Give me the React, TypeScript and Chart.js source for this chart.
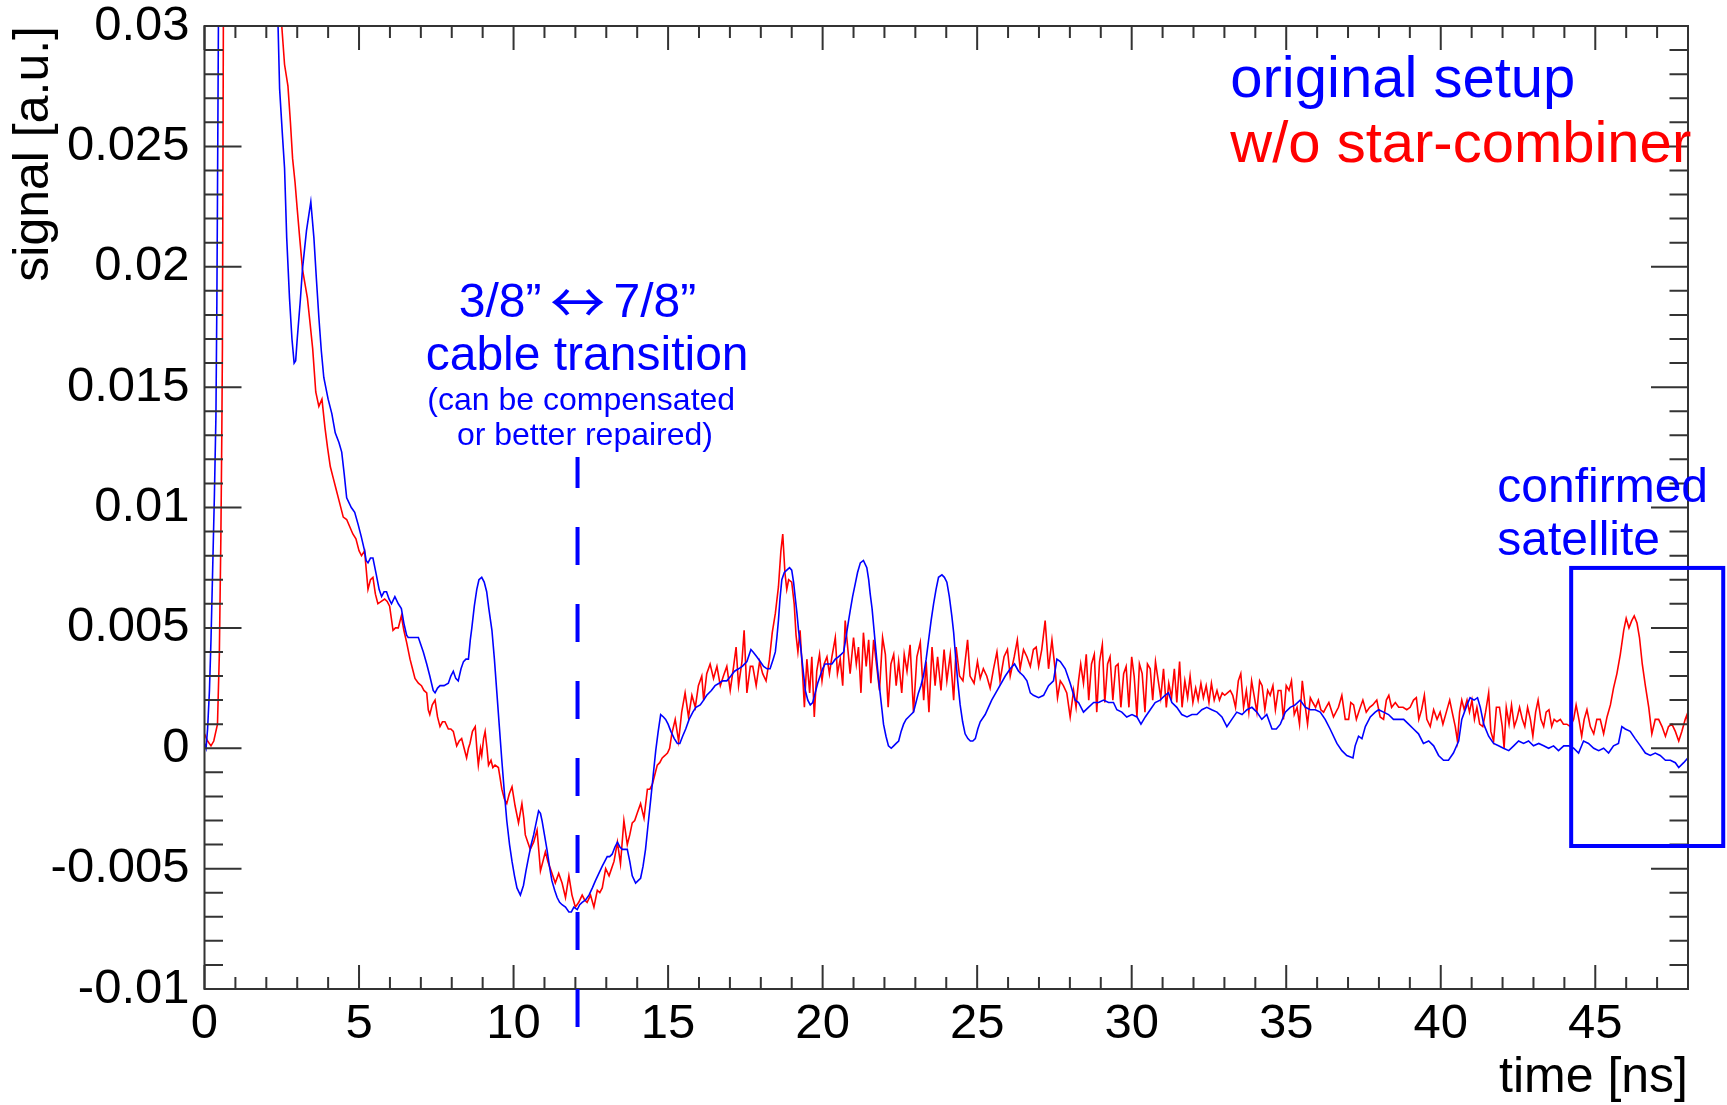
import React, { useEffect, useRef } from "react";
import { Chart, registerables } from "chart.js";

Chart.register(...registerables);

// ---------- data ----------
const xTickValues = [0, 5, 10, 15, 20, 25, 30, 35, 40, 45];
const xTickLabels = ["0", "5", "10", "15", "20", "25", "30", "35", "40", "45"];
const yTickValues = [-0.01, -0.005, 0, 0.005, 0.01, 0.015, 0.02, 0.025, 0.03];
const yTickLabels = ["-0.01", "-0.005", "0", "0.005", "0.01", "0.015", "0.02", "0.025", "0.03"];
const seriesNames = ["original setup", "w/o star-combiner"];

// [time ns, signal a.u.]
const originalSetup: [number, number][] = [
  [0.0, 0.0002], [0.05, 0.0], [0.1, 0.0008], [0.16, 0.0024], [0.21, 0.0045], [0.26, 0.0072],
  [0.32, 0.0105], [0.37, 0.0138], [0.4, 0.0185], [0.42, 0.0229], [0.45, 0.03], [0.5, 0.045],
  [1.2, 0.12], [2.3, 0.045], [2.38, 0.03], [2.43, 0.0274], [2.52, 0.0255], [2.59, 0.0241],
  [2.66, 0.0212], [2.75, 0.0187], [2.83, 0.017], [2.9, 0.016], [2.95, 0.0161], [3.0, 0.017],
  [3.1, 0.0186], [3.17, 0.0199], [3.3, 0.0215], [3.44, 0.0227], [3.54, 0.0212], [3.62, 0.0195],
  [3.7, 0.0179], [3.78, 0.0165], [3.86, 0.0154], [4.0, 0.0145], [4.12, 0.0139], [4.23, 0.0131],
  [4.35, 0.0127], [4.44, 0.0123], [4.52, 0.0114], [4.6, 0.0104], [4.75, 0.01], [4.86, 0.0098],
  [4.97, 0.0093], [5.07, 0.0088], [5.18, 0.0082], [5.23, 0.0078], [5.29, 0.0077], [5.37, 0.0079],
  [5.45, 0.0079], [5.56, 0.0072], [5.65, 0.0066], [5.73, 0.0063], [5.81, 0.0065], [5.89, 0.0065],
  [5.97, 0.0062], [6.05, 0.006], [6.16, 0.0063], [6.27, 0.006], [6.37, 0.0058], [6.45, 0.0052],
  [6.54, 0.0047], [6.59, 0.0046], [6.75, 0.0046], [6.92, 0.0046], [7.0, 0.0043], [7.08, 0.004],
  [7.19, 0.0035], [7.29, 0.003], [7.4, 0.0024], [7.46, 0.0023], [7.54, 0.0025], [7.62, 0.0026],
  [7.75, 0.0026], [7.89, 0.0027], [7.97, 0.003], [8.05, 0.0032], [8.13, 0.0029], [8.21, 0.0028],
  [8.3, 0.0033], [8.38, 0.0036], [8.46, 0.0037], [8.54, 0.0037], [8.6, 0.0045], [8.65, 0.005],
  [8.73, 0.0059], [8.81, 0.0066], [8.88, 0.007], [8.97, 0.0071], [9.05, 0.0069], [9.13, 0.0065],
  [9.2, 0.0058], [9.3, 0.0049], [9.38, 0.0037], [9.46, 0.0023], [9.54, 0.0009], [9.62, -0.0005],
  [9.7, -0.0018], [9.78, -0.003], [9.87, -0.004], [9.95, -0.0047], [10.03, -0.0053], [10.11, -0.0058],
  [10.22, -0.0061], [10.32, -0.0057], [10.4, -0.0051], [10.49, -0.0045], [10.57, -0.004], [10.65, -0.0036],
  [10.73, -0.0031], [10.81, -0.0026], [10.87, -0.0027], [10.92, -0.003], [11.0, -0.0036], [11.08, -0.0042],
  [11.16, -0.0049], [11.24, -0.0055], [11.33, -0.0059], [11.41, -0.0062], [11.49, -0.0064], [11.57, -0.0065],
  [11.68, -0.0066], [11.79, -0.0068], [11.87, -0.0068], [11.95, -0.0066], [12.06, -0.0067], [12.14, -0.0065],
  [12.22, -0.0064], [12.33, -0.0063], [12.44, -0.0061], [12.55, -0.0058], [12.65, -0.0055], [12.76, -0.0052],
  [12.87, -0.0049], [12.95, -0.0047], [13.03, -0.0045], [13.11, -0.0045], [13.19, -0.0044], [13.28, -0.0041],
  [13.36, -0.0039], [13.44, -0.0041], [13.52, -0.0042], [13.6, -0.0042], [13.68, -0.0042], [13.76, -0.0047],
  [13.84, -0.0053], [13.95, -0.0056], [14.03, -0.0055], [14.11, -0.0054], [14.19, -0.0049], [14.27, -0.0042],
  [14.35, -0.0032], [14.44, -0.0021], [14.52, -0.0011], [14.6, -0.0001], [14.68, 0.0007], [14.76, 0.0014],
  [14.85, 0.0013], [14.92, 0.0012], [15.0, 0.001], [15.09, 0.0007], [15.2, 0.0004], [15.3, 0.0002],
  [15.38, 0.0002], [15.47, 0.0005], [15.57, 0.0008], [15.68, 0.0012], [15.8, 0.0015], [15.9, 0.0017],
  [16.04, 0.0018], [16.15, 0.002], [16.25, 0.0022], [16.4, 0.0024], [16.52, 0.0026], [16.65, 0.0027],
  [16.76, 0.0028], [16.9, 0.0028], [17.03, 0.003], [17.15, 0.0032], [17.28, 0.0033], [17.4, 0.0034],
  [17.55, 0.0036], [17.68, 0.0041], [17.75, 0.004], [17.87, 0.0038], [17.98, 0.0036], [18.09, 0.0034],
  [18.2, 0.0033], [18.3, 0.0033], [18.4, 0.0037], [18.47, 0.004], [18.52, 0.0046], [18.57, 0.0053],
  [18.62, 0.0062], [18.68, 0.007], [18.76, 0.0073], [18.84, 0.0074], [18.93, 0.0075], [19.0, 0.0074],
  [19.06, 0.0069], [19.11, 0.0063], [19.17, 0.0056], [19.22, 0.0049], [19.28, 0.0043], [19.33, 0.0037],
  [19.39, 0.003], [19.44, 0.0024], [19.52, 0.002], [19.6, 0.0018], [19.68, 0.0019], [19.76, 0.0023],
  [19.84, 0.0027], [19.92, 0.003], [20.0, 0.0033], [20.08, 0.0035], [20.2, 0.0035], [20.3, 0.0035],
  [20.41, 0.0037], [20.51, 0.0038], [20.6, 0.0039], [20.68, 0.004], [20.73, 0.0044], [20.78, 0.0048],
  [20.84, 0.0053], [20.89, 0.0057], [20.97, 0.0063], [21.05, 0.0068], [21.13, 0.0073], [21.22, 0.0077],
  [21.32, 0.0078], [21.43, 0.0075], [21.49, 0.007], [21.54, 0.0064], [21.6, 0.0058], [21.65, 0.0051],
  [21.7, 0.0044], [21.75, 0.0037], [21.8, 0.003], [21.86, 0.0023], [21.92, 0.0016], [21.97, 0.001],
  [22.05, 0.0005], [22.13, 0.0001], [22.22, 0.0], [22.3, 0.0001], [22.38, 0.0002], [22.46, 0.0003],
  [22.54, 0.0007], [22.62, 0.001], [22.7, 0.0012], [22.78, 0.0013], [22.86, 0.0014], [22.94, 0.0015],
  [23.02, 0.0019], [23.1, 0.0023], [23.18, 0.0026], [23.26, 0.003], [23.35, 0.0037], [23.43, 0.0045],
  [23.51, 0.0053], [23.59, 0.006], [23.67, 0.0066], [23.75, 0.0071], [23.86, 0.0072], [23.94, 0.0071],
  [24.02, 0.0069], [24.1, 0.0063], [24.18, 0.0055], [24.24, 0.0048], [24.29, 0.004], [24.37, 0.0028],
  [24.45, 0.0018], [24.53, 0.0011], [24.61, 0.0006], [24.7, 0.0004], [24.78, 0.0003], [24.86, 0.0003],
  [24.94, 0.0004], [25.02, 0.0008], [25.1, 0.0011], [25.26, 0.0014], [25.47, 0.002], [25.69, 0.0025],
  [25.91, 0.003], [26.07, 0.0033], [26.21, 0.0035], [26.34, 0.0032], [26.5, 0.003], [26.61, 0.0028],
  [26.72, 0.0023], [26.82, 0.0022], [26.99, 0.0021], [27.15, 0.0022], [27.31, 0.0026], [27.47, 0.0028],
  [27.58, 0.0037], [27.69, 0.0036], [27.85, 0.0033], [28.01, 0.0027], [28.17, 0.002], [28.28, 0.0019],
  [28.44, 0.0015], [28.6, 0.0017], [28.77, 0.0019], [28.93, 0.0019], [29.09, 0.002], [29.25, 0.0019],
  [29.41, 0.0019], [29.52, 0.0016], [29.68, 0.0015], [29.84, 0.0013], [30.01, 0.0014], [30.17, 0.0013],
  [30.3, 0.001], [30.44, 0.0013], [30.6, 0.0016], [30.76, 0.0019], [30.92, 0.002], [31.08, 0.0022],
  [31.19, 0.0023], [31.3, 0.0019], [31.46, 0.0017], [31.62, 0.0014], [31.79, 0.0013], [31.95, 0.0014],
  [32.11, 0.0014], [32.27, 0.0016], [32.43, 0.0017], [32.59, 0.0016], [32.76, 0.0015], [32.92, 0.0013],
  [33.08, 0.0009], [33.24, 0.0012], [33.4, 0.0015], [33.57, 0.0014], [33.73, 0.0016], [33.89, 0.0017],
  [34.05, 0.0015], [34.21, 0.0012], [34.37, 0.0014], [34.54, 0.0008], [34.68, 0.0008], [34.81, 0.001],
  [34.97, 0.0015], [35.13, 0.0017], [35.29, 0.0018], [35.45, 0.002], [35.62, 0.0017], [35.78, 0.0016],
  [35.94, 0.0016], [36.1, 0.0015], [36.26, 0.0012], [36.42, 0.0008], [36.64, 0.0002], [36.8, -0.0001],
  [36.96, -0.0003], [37.16, -0.0004], [37.23, 0.0001], [37.34, 0.0005], [37.45, 0.0004], [37.56, 0.0009],
  [37.72, 0.0013], [37.88, 0.0015], [37.99, 0.0016], [38.15, 0.0015], [38.31, 0.0014], [38.47, 0.0012],
  [38.64, 0.0012], [38.8, 0.0012], [38.96, 0.001], [39.12, 0.0008], [39.28, 0.0006], [39.44, 0.0002],
  [39.61, 0.0003], [39.77, 0.0001], [39.93, -0.0003], [40.09, -0.0005], [40.25, -0.0005], [40.41, -0.0002],
  [40.58, 0.0003], [40.68, 0.0012], [40.85, 0.0018], [40.95, 0.0021], [41.08, 0.002], [41.19, 0.0021],
  [41.28, 0.0017], [41.39, 0.001], [41.55, 0.0005], [41.71, 0.0002], [41.87, 0.0001], [42.03, 0.0],
  [42.2, -0.0001], [42.36, 0.0001], [42.52, 0.0003], [42.68, 0.0002], [42.84, 0.0003], [43.0, 0.0001],
  [43.17, 0.0002], [43.33, 0.0001], [43.49, 0.0], [43.65, 0.0001], [43.81, -0.0001], [43.98, 0.0001],
  [44.14, 0.0001], [44.3, 0.0], [44.46, -0.0002], [44.62, 0.0003], [44.78, 0.0002], [44.95, 0.0],
  [45.11, -0.0001], [45.27, 0.0], [45.43, -0.0002], [45.59, 0.0001], [45.75, 0.0002], [45.86, 0.0009],
  [45.97, 0.0008], [46.13, 0.0007], [46.29, 0.0004], [46.46, 0.0001], [46.62, -0.0002], [46.78, -0.0003],
  [46.94, -0.0002], [47.1, -0.0003], [47.27, -0.0005], [47.43, -0.0005], [47.59, -0.0006], [47.7, -0.0008],
  [47.86, -0.0006], [48.0, -0.0004],
];

const withoutStarCombiner: [number, number][] = [
  [0.0, 0.0006], [0.1, 0.0003], [0.21, 0.0001], [0.3, 0.0003], [0.42, 0.001], [0.48, 0.0039],
  [0.53, 0.0088], [0.56, 0.013], [0.58, 0.0167], [0.61, 0.03], [0.65, 0.05], [1.4, 0.12],
  [2.42, 0.05], [2.5, 0.03], [2.59, 0.0284], [2.7, 0.0275], [2.78, 0.026], [2.85, 0.0245],
  [2.93, 0.0235], [3.0, 0.0224], [3.08, 0.0212], [3.17, 0.0199], [3.25, 0.0193], [3.33, 0.0187],
  [3.42, 0.0176], [3.5, 0.0166], [3.6, 0.0148], [3.7, 0.0142], [3.8, 0.0145], [3.9, 0.0133],
  [3.98, 0.0125], [4.07, 0.0117], [4.17, 0.0112], [4.25, 0.0108], [4.33, 0.0104], [4.49, 0.0096],
  [4.6, 0.0095], [4.7, 0.0092], [4.8, 0.0089], [4.9, 0.0087], [5.0, 0.0082], [5.08, 0.008],
  [5.18, 0.0082], [5.29, 0.0066], [5.37, 0.007], [5.45, 0.0071], [5.53, 0.0064], [5.61, 0.006],
  [5.72, 0.0061], [5.83, 0.0062], [5.91, 0.0061], [5.99, 0.0059], [6.1, 0.0049], [6.18, 0.005],
  [6.27, 0.005], [6.37, 0.0055], [6.45, 0.0049], [6.54, 0.0044], [6.65, 0.0037], [6.73, 0.0033],
  [6.81, 0.0029], [6.92, 0.0027], [7.02, 0.0026], [7.1, 0.0024], [7.19, 0.0023], [7.24, 0.0016],
  [7.29, 0.0014], [7.37, 0.0018], [7.46, 0.002], [7.54, 0.0013], [7.62, 0.0009], [7.7, 0.0011],
  [7.78, 0.0011], [7.89, 0.0008], [7.97, 0.0008], [8.05, 0.0007], [8.16, 0.0001], [8.24, 0.0003],
  [8.32, 0.0004], [8.4, 0.0], [8.48, -0.0004], [8.54, 0.0], [8.59, 0.0002], [8.67, 0.0007],
  [8.76, 0.0009], [8.81, 0.0], [8.86, -0.0007], [8.93, 0.0], [8.97, -0.0003], [9.03, 0.0004],
  [9.08, 0.0007], [9.14, 0.0], [9.19, -0.0007], [9.27, -0.0005], [9.33, -0.0008], [9.4, -0.0007],
  [9.51, -0.0008], [9.56, -0.0012], [9.62, -0.0017], [9.7, -0.0021], [9.78, -0.0023], [9.86, -0.0019],
  [9.95, -0.0016], [10.05, -0.0024], [10.16, -0.0031], [10.27, -0.0023], [10.33, -0.0029], [10.38, -0.0036],
  [10.46, -0.0039], [10.54, -0.0042], [10.65, -0.0039], [10.76, -0.0034], [10.82, -0.0043], [10.87, -0.0051],
  [10.95, -0.0047], [11.03, -0.0043], [11.11, -0.0047], [11.19, -0.005], [11.27, -0.0053], [11.35, -0.0056],
  [11.46, -0.0052], [11.57, -0.0056], [11.68, -0.0062], [11.79, -0.0053], [11.89, -0.0061], [12.0, -0.0066],
  [12.11, -0.0064], [12.22, -0.0061], [12.3, -0.0063], [12.38, -0.0064], [12.49, -0.0061], [12.6, -0.0066],
  [12.71, -0.0059], [12.79, -0.006], [12.87, -0.0058], [12.98, -0.005], [13.09, -0.0053], [13.17, -0.005],
  [13.25, -0.0047], [13.36, -0.0039], [13.46, -0.0048], [13.57, -0.003], [13.68, -0.004], [13.76, -0.0036],
  [13.84, -0.0031], [13.92, -0.003], [14.0, -0.0027], [14.11, -0.0023], [14.22, -0.0029], [14.33, -0.0017],
  [14.41, -0.0017], [14.49, -0.0015], [14.57, -0.0011], [14.65, -0.0007], [14.73, -0.0006], [14.81, -0.0004],
  [14.9, -0.0003], [14.98, -0.0002], [15.05, 0.0], [15.12, 0.0006], [15.23, 0.0012], [15.34, 0.0003],
  [15.44, 0.0015], [15.55, 0.0023], [15.66, 0.0013], [15.77, 0.0022], [15.88, 0.0017], [15.98, 0.0026],
  [16.09, 0.003], [16.15, 0.002], [16.25, 0.0031], [16.36, 0.0035], [16.47, 0.0029], [16.58, 0.0034],
  [16.69, 0.0026], [16.79, 0.003], [16.9, 0.0034], [17.01, 0.0024], [17.12, 0.0034], [17.2, 0.0042],
  [17.28, 0.0026], [17.39, 0.0036], [17.46, 0.0049], [17.55, 0.0023], [17.66, 0.0034], [17.74, 0.0034],
  [17.85, 0.0026], [17.96, 0.0036], [18.06, 0.0031], [18.17, 0.0028], [18.28, 0.0037], [18.37, 0.0048],
  [18.47, 0.0056], [18.57, 0.0067], [18.65, 0.0082], [18.71, 0.0089], [18.78, 0.0073], [18.84, 0.0066],
  [18.9, 0.007], [19.0, 0.0069], [19.08, 0.006], [19.14, 0.0047], [19.2, 0.004], [19.27, 0.0049],
  [19.36, 0.0029], [19.41, 0.0017], [19.49, 0.0037], [19.58, 0.0023], [19.65, 0.0038], [19.73, 0.0013],
  [19.81, 0.0032], [19.9, 0.0039], [19.98, 0.0028], [20.05, 0.0035], [20.14, 0.0038], [20.22, 0.0031],
  [20.3, 0.0038], [20.41, 0.0046], [20.48, 0.0031], [20.57, 0.0037], [20.65, 0.0026], [20.73, 0.0053],
  [20.81, 0.0042], [20.89, 0.0031], [21.0, 0.0046], [21.09, 0.0035], [21.16, 0.0042], [21.24, 0.0023],
  [21.32, 0.0048], [21.41, 0.0034], [21.49, 0.0045], [21.56, 0.0027], [21.65, 0.0045], [21.75, 0.0034],
  [21.84, 0.0024], [21.94, 0.0046], [22.03, 0.0039], [22.12, 0.0017], [22.21, 0.0035], [22.3, 0.0039],
  [22.38, 0.0026], [22.46, 0.0036], [22.56, 0.0023], [22.64, 0.0039], [22.73, 0.0032], [22.83, 0.0043],
  [22.94, 0.0015], [23.05, 0.0038], [23.16, 0.0044], [23.27, 0.002], [23.35, 0.0036], [23.44, 0.0015],
  [23.54, 0.0042], [23.64, 0.0026], [23.72, 0.0038], [23.83, 0.0024], [23.93, 0.0041], [24.02, 0.0028],
  [24.13, 0.0039], [24.24, 0.002], [24.32, 0.0042], [24.43, 0.003], [24.54, 0.0028], [24.69, 0.0045],
  [24.77, 0.003], [24.9, 0.0027], [25.01, 0.0036], [25.1, 0.0029], [25.2, 0.0033], [25.31, 0.003],
  [25.42, 0.0025], [25.53, 0.0033], [25.64, 0.004], [25.74, 0.0028], [25.87, 0.0038], [25.98, 0.0041],
  [26.07, 0.003], [26.2, 0.0038], [26.3, 0.0045], [26.39, 0.0033], [26.5, 0.0041], [26.61, 0.0038],
  [26.72, 0.0034], [26.82, 0.0041], [26.91, 0.0042], [26.99, 0.0034], [27.09, 0.0041], [27.2, 0.0053],
  [27.31, 0.0033], [27.42, 0.0045], [27.52, 0.0033], [27.6, 0.0021], [27.69, 0.0028], [27.79, 0.0026],
  [27.9, 0.0023], [28.01, 0.0013], [28.12, 0.0024], [28.2, 0.0017], [28.28, 0.0028], [28.35, 0.0035],
  [28.44, 0.0027], [28.53, 0.0039], [28.61, 0.002], [28.7, 0.0035], [28.79, 0.0039], [28.87, 0.0015],
  [28.96, 0.0036], [29.05, 0.0043], [29.13, 0.0019], [29.22, 0.0035], [29.3, 0.0038], [29.39, 0.002],
  [29.48, 0.0034], [29.56, 0.0035], [29.65, 0.0017], [29.74, 0.0031], [29.82, 0.0034], [29.91, 0.0017],
  [30.0, 0.0038], [30.08, 0.003], [30.17, 0.0013], [30.25, 0.0035], [30.34, 0.0031], [30.43, 0.0015],
  [30.51, 0.0035], [30.6, 0.0033], [30.68, 0.002], [30.77, 0.0036], [30.86, 0.0028], [30.94, 0.0021],
  [31.03, 0.0033], [31.12, 0.0017], [31.2, 0.0027], [31.29, 0.0021], [31.38, 0.0033], [31.46, 0.0019],
  [31.55, 0.0036], [31.63, 0.0017], [31.72, 0.0028], [31.81, 0.0021], [31.89, 0.003], [31.98, 0.0019],
  [32.07, 0.0025], [32.15, 0.002], [32.24, 0.0027], [32.32, 0.0021], [32.41, 0.0026], [32.5, 0.0019],
  [32.58, 0.0027], [32.67, 0.002], [32.76, 0.0024], [32.84, 0.002], [32.93, 0.0023], [33.01, 0.0022],
  [33.1, 0.0023], [33.19, 0.0024], [33.27, 0.0022], [33.36, 0.0017], [33.45, 0.0028], [33.53, 0.0031],
  [33.62, 0.0017], [33.71, 0.0024], [33.79, 0.0015], [33.88, 0.0028], [33.96, 0.0022], [34.05, 0.0015],
  [34.14, 0.0028], [34.22, 0.0026], [34.31, 0.0016], [34.4, 0.0024], [34.48, 0.0022], [34.57, 0.0026],
  [34.65, 0.0016], [34.74, 0.0024], [34.83, 0.0024], [34.91, 0.0012], [35.0, 0.0026], [35.09, 0.0024],
  [35.17, 0.0028], [35.26, 0.0014], [35.35, 0.0017], [35.43, 0.001], [35.52, 0.0028], [35.6, 0.0019],
  [35.69, 0.001], [35.78, 0.0021], [35.86, 0.0019], [35.95, 0.0017], [36.04, 0.002], [36.12, 0.0016],
  [36.21, 0.0015], [36.29, 0.0017], [36.38, 0.0019], [36.53, 0.0013], [36.69, 0.0017], [36.8, 0.0022],
  [36.91, 0.0012], [37.02, 0.0012], [37.09, 0.0019], [37.18, 0.0018], [37.27, 0.0012], [37.37, 0.0016],
  [37.48, 0.002], [37.59, 0.0015], [37.7, 0.0017], [37.8, 0.0018], [37.93, 0.002], [38.04, 0.0013],
  [38.15, 0.0012], [38.24, 0.002], [38.32, 0.0022], [38.41, 0.0017], [38.53, 0.0019], [38.64, 0.0017],
  [38.78, 0.0017], [38.9, 0.0016], [39.01, 0.0017], [39.12, 0.002], [39.21, 0.0021], [39.29, 0.0012],
  [39.38, 0.0016], [39.47, 0.0022], [39.55, 0.0012], [39.66, 0.0009], [39.77, 0.0016], [39.88, 0.0012],
  [39.98, 0.0015], [40.07, 0.001], [40.18, 0.0015], [40.29, 0.002], [40.37, 0.0015], [40.47, 0.0009],
  [40.54, 0.0003], [40.61, 0.0015], [40.68, 0.002], [40.76, 0.0016], [40.85, 0.002], [40.93, 0.0015],
  [41.01, 0.002], [41.09, 0.0012], [41.17, 0.0017], [41.26, 0.001], [41.36, 0.0009], [41.45, 0.0015],
  [41.55, 0.0023], [41.62, 0.0007], [41.71, 0.0003], [41.8, 0.0017], [41.9, 0.0017], [41.99, 0.0009],
  [42.05, 0.0], [42.12, 0.0017], [42.21, 0.001], [42.29, 0.0018], [42.38, 0.0009], [42.46, 0.0012],
  [42.55, 0.0017], [42.64, 0.0012], [42.72, 0.0009], [42.81, 0.0017], [42.9, 0.0012], [42.98, 0.0005],
  [43.07, 0.0015], [43.15, 0.002], [43.24, 0.0012], [43.33, 0.0009], [43.41, 0.0015], [43.5, 0.0016],
  [43.59, 0.0009], [43.67, 0.0012], [43.76, 0.0011], [43.87, 0.0012], [43.97, 0.001], [44.08, 0.001],
  [44.19, 0.0009], [44.3, 0.0012], [44.38, 0.0018], [44.47, 0.0012], [44.56, 0.0005], [44.64, 0.0012],
  [44.73, 0.0016], [44.84, 0.0009], [44.95, 0.0006], [45.05, 0.0012], [45.16, 0.0012], [45.27, 0.0006],
  [45.38, 0.0013], [45.49, 0.0018], [45.59, 0.0025], [45.7, 0.0031], [45.81, 0.0039], [45.92, 0.0049],
  [46.0, 0.0054], [46.09, 0.005], [46.18, 0.0053], [46.26, 0.0055], [46.35, 0.0052], [46.43, 0.0046],
  [46.52, 0.0035], [46.62, 0.0026], [46.73, 0.0017], [46.83, 0.0006], [46.94, 0.0012], [47.05, 0.0012],
  [47.16, 0.0009], [47.27, 0.0005], [47.37, 0.0009], [47.48, 0.001], [47.59, 0.0007], [47.7, 0.0003],
  [47.8, 0.0007], [47.91, 0.0012], [47.97, 0.0014], [48.0, 0.0008],
];

// ---------- annotation content (data coordinates) ----------
const cableTransitionTime = 12.07;
const cableLineTop = 0.0121;
const cableLineBottom = -0.01158;
const satelliteBox = { tMin: 44.22, tMax: 49.14, vMin: -0.00406, vMax: 0.00749 };
const cableHeading = { left: "3/8\u201D", arrow: "\u2194", right: "7/8\u201D", t: 12.07, v: 0.01791 };

const BLUE = "#0000ff";
const RED = "#ff0000";
const AXIS_COLOR = "#333333";
const FONT = '"Liberation Sans", Arial, Helvetica, sans-serif';
const ARROW_FONT = '"Noto Sans CJK JP", "DejaVu Sans", sans-serif';

type Note = { text: string; t: number; v: number; size: number; color: string; align: CanvasTextAlign };
const notes: Note[] = [
  { text: seriesNames[0], t: 33.19, v: 0.02705, size: 58, color: BLUE, align: "left" },
  { text: seriesNames[1], t: 33.19, v: 0.02435, size: 58, color: RED, align: "left" },
  { text: "cable transition", t: 12.38, v: 0.01571, size: 48, color: BLUE, align: "center" },
  { text: "(can be compensated", t: 12.19, v: 0.01405, size: 32, color: BLUE, align: "center" },
  { text: "or better repaired)", t: 12.31, v: 0.0126, size: 32, color: BLUE, align: "center" },
  { text: "confirmed", t: 41.83, v: 0.01023, size: 48, color: BLUE, align: "left" },
  { text: "satellite", t: 41.83, v: 0.00803, size: 48, color: BLUE, align: "left" },
];

const framePlugin = {
  id: "rootFrame",
  afterDatasetsDraw(chart: any) {
    const { ctx, chartArea: a, scales } = chart;
    const xs = scales.x;
    const ys = scales.y;
    ctx.save();
    ctx.strokeStyle = AXIS_COLOR;
    ctx.lineWidth = 2;
    ctx.beginPath();
    for (let t = 0; t <= 48; t += 1) {
      const px = xs.getPixelForValue(t);
      const len = t % 5 === 0 ? 24 : 12;
      ctx.moveTo(px, a.bottom);
      ctx.lineTo(px, a.bottom - len);
      ctx.moveTo(px, a.top);
      ctx.lineTo(px, a.top + len);
    }
    for (let k = -10; k <= 30; k += 1) {
      const py = ys.getPixelForValue(k / 1000);
      const len = k % 5 === 0 ? 37 : 18.5;
      ctx.moveTo(a.left, py);
      ctx.lineTo(a.left + len, py);
      ctx.moveTo(a.right, py);
      ctx.lineTo(a.right - len, py);
    }
    ctx.stroke();
    ctx.strokeRect(a.left, a.top, a.right - a.left, a.bottom - a.top);
    ctx.restore();
  },
  afterDraw(chart: any) {
    const { ctx, scales } = chart;
    const xs = scales.x;
    const ys = scales.y;
    ctx.save();
    // dashed cable-transition marker
    const lx = xs.getPixelForValue(cableTransitionTime);
    ctx.strokeStyle = BLUE;
    ctx.lineWidth = 4;
    ctx.setLineDash([38, 39]);
    ctx.beginPath();
    ctx.moveTo(lx, ys.getPixelForValue(cableLineBottom));
    ctx.lineTo(lx, ys.getPixelForValue(cableLineTop));
    ctx.stroke();
    ctx.setLineDash([]);
    // satellite box
    const bx0 = xs.getPixelForValue(satelliteBox.tMin);
    const bx1 = xs.getPixelForValue(satelliteBox.tMax);
    const by0 = ys.getPixelForValue(satelliteBox.vMax);
    const by1 = ys.getPixelForValue(satelliteBox.vMin);
    ctx.lineWidth = 4;
    ctx.strokeRect(bx0, by0, bx1 - bx0, by1 - by0);
    // texts
    ctx.textBaseline = "alphabetic";
    for (const n of notes) {
      ctx.font = `${n.size}px ${FONT}`;
      ctx.fillStyle = n.color;
      ctx.textAlign = n.align;
      ctx.fillText(n.text, xs.getPixelForValue(n.t), ys.getPixelForValue(n.v));
    }
    // "3/8” ↔ 7/8”" with a wide thin arrow
    const cx = xs.getPixelForValue(cableHeading.t);
    const by = ys.getPixelForValue(cableHeading.v);
    ctx.fillStyle = BLUE;
    ctx.font = `48px ${FONT}`;
    ctx.textAlign = "right";
    ctx.fillText(cableHeading.left, cx - 36, by);
    ctx.textAlign = "left";
    ctx.fillText(cableHeading.right, cx + 36, by);
    ctx.font = `100px ${ARROW_FONT}`;
    const m = ctx.measureText(cableHeading.arrow);
    const w100 = m.actualBoundingBoxLeft + m.actualBoundingBoxRight;
    const size = (100 * 52) / Math.max(w100, 1);
    ctx.font = `${size}px ${ARROW_FONT}`;
    const m2 = ctx.measureText(cableHeading.arrow);
    const gw = m2.actualBoundingBoxLeft + m2.actualBoundingBoxRight;
    const gCenterAbove = (m2.actualBoundingBoxAscent - m2.actualBoundingBoxDescent) / 2;
    ctx.textAlign = "left";
    ctx.fillText(cableHeading.arrow, cx - gw / 2 + m2.actualBoundingBoxLeft, by - 15 + gCenterAbove);
    ctx.restore();
  },
};

export default function App() {
  const canvasRef = useRef<HTMLCanvasElement | null>(null);

  useEffect(() => {
    document.body.style.margin = "0";
    const canvas = canvasRef.current;
    if (!canvas) return;
    const chart = new Chart(canvas, {
      type: "line",
      data: {
        datasets: [
          {
            label: seriesNames[0],
            data: originalSetup.map(([x, y]) => ({ x, y })),
            borderColor: BLUE,
            borderWidth: 1.6,
            pointRadius: 0,
            tension: 0,
            clip: 0,
          },
          {
            label: seriesNames[1],
            data: withoutStarCombiner.map(([x, y]) => ({ x, y })),
            borderColor: RED,
            borderWidth: 1.6,
            pointRadius: 0,
            tension: 0,
            clip: 0,
          },
        ],
      } as any,
      options: {
        responsive: false,
        animation: false,
        devicePixelRatio: 1,
        events: [],
        layout: { padding: { left: 0, right: 39, top: 26, bottom: 0 } },
        plugins: { legend: { display: false }, tooltip: { enabled: false } },
        scales: {
          x: {
            type: "linear",
            min: 0,
            max: 48,
            grid: { display: false, drawTicks: false },
            border: { display: false },
            afterFit: (s: any) => {
              s.height = 116;
            },
            afterBuildTicks: (s: any) => {
              s.ticks = xTickValues.map((v) => ({ value: v }));
            },
            ticks: {
              autoSkip: false,
              maxRotation: 0,
              padding: 11,
              color: "#000",
              font: { family: FONT, size: 49, lineHeight: 1 },
              callback: (v: any) => {
                const i = xTickValues.indexOf(Number(v));
                return i >= 0 ? xTickLabels[i] : "";
              },
            },
            title: {
              display: true,
              text: "time [ns]",
              align: "end",
              color: "#000",
              font: { family: FONT, size: 50, lineHeight: 1 },
              padding: { top: 0, bottom: 2 },
            },
          },
          y: {
            type: "linear",
            min: -0.01,
            max: 0.03,
            grid: { display: false, drawTicks: false },
            border: { display: false },
            afterFit: (s: any) => {
              s.width = 204.5;
            },
            afterBuildTicks: (s: any) => {
              s.ticks = yTickValues.map((v) => ({ value: v }));
            },
            ticks: {
              autoSkip: false,
              padding: 15,
              color: "#000",
              font: { family: FONT, size: 49, lineHeight: 0.2 },
              callback: (v: any) => {
                const i = yTickValues.indexOf(Number(v));
                return i >= 0 ? yTickLabels[i] : "";
              },
            },
            title: {
              display: true,
              text: "signal [a.u.]",
              align: "end",
              color: "#000",
              font: { family: FONT, size: 50, lineHeight: 1 },
              padding: { top: 9, bottom: 0 },
            },
          },
        },
      } as any,
      plugins: [framePlugin],
    });
    return () => chart.destroy();
  }, []);

  return (
    <canvas
      ref={canvasRef}
      width={1727}
      height={1105}
      style={{ display: "block", width: "1727px", height: "1105px" }}
    />
  );
}
